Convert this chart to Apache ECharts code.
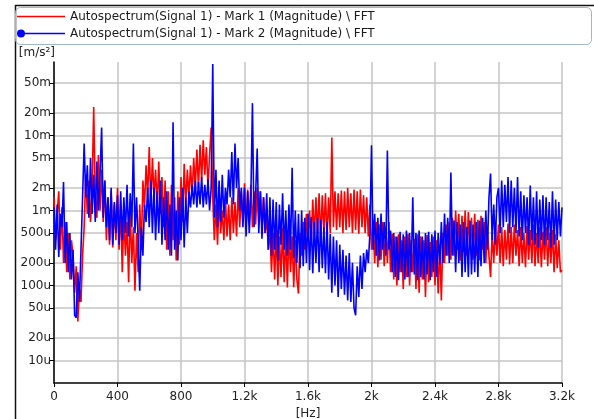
<!DOCTYPE html>
<html>
<head>
<meta charset="utf-8">
<script src="https://cdn.jsdelivr.net/npm/echarts@6/dist/echarts.min.js"></script>
<style>
html,body{margin:0;padding:0;background:#fff;}
#chart{width:594px;height:419px;}
</style>
</head>
<body>
<div id="chart"></div>
<script>
// ---- DATA ----
const seriesNames = [
  'Autospectrum(Signal 1) - Mark 1 (Magnitude) \\ FFT',
  'Autospectrum(Signal 1) - Mark 2 (Magnitude) \\ FFT'
];
// sample positions (Hz): 0..3200 every 10 Hz
const FREQ_START = 0, FREQ_STEP = 10, FREQ_COUNT = 321;
// values in micro m/s² (u) (one row = 100 Hz)
const mark1U = [
  1500,400,900,1800,300,1100,200,700,150,500,
  120,400,250,80,180,33,90,60,250,600,
  3000,900,2500,700,1800,24000,1500,800,5500,1000,
  3500,700,2500,400,1500,350,1800,320,1200,400,
  2000,300,1200,150,900,250,700,110,1000,200,
  600,85,500,150,1200,300,2500,1100,4000,1500,
  7000,1200,5000,1500,3500,1100,4500,900,2800,600,
  2500,300,1800,250,2200,400,1500,215,1800,350,
  2800,700,4200,1200,3500,1500,4000,1600,5000,2000,
  6500,2000,7500,2500,8600,3000,7000,2000,5500,12800,
  1500,400,1200,350,1500,500,1000,400,1400,450,
  1200,400,1500,500,1300,450,2000,600,1800,700,
  2300,600,1900,700,2200,600,1800,650,2000,700,
  1800,600,1500,500,800,300,600,150,500,120,
  550,100,450,130,590,110,500,94,550,150,
  450,95,400,120,78,500,250,700,300,900,
  400,1000,360,1400,450,1500,500,1700,400,1600,
  500,1700,450,1500,500,9400,600,1800,550,1700,
  600,1850,500,1800,550,2000,600,1700,500,1900,
  550,1800,490,1900,600,1600,500,1500,450,1200,
  300,735,200,700,175,650,220,700,180,600,
  200,700,150,490,120,450,100,480,150,400,
  90,450,130,490,100,400,150,420,90,480,
  80,450,120,400,70,470,110,380,130,450,
  100,400,78,350,63,500,200,650,250,700,
  220,800,250,1000,300,900,215,850,280,1000,
  250,950,300,800,220,900,250,750,215,850,
  300,700,200,600,250,130,500,200,600,250,
  650,200,600,180,550,220,670,190,600,200,
  650,250,550,180,600,200,500,175,620,220,
  550,200,650,180,500,200,600,175,520,220,
  600,180,500,200,550,150,480,170,400,150,
  160
];
const mark2U = [
  1100,300,1200,240,900,600,2400,200,700,150,
  500,120,300,40,37,150,60,300,1500,7800,
  1500,4000,800,5000,900,3000,700,4500,1000,3000,
  12800,800,2500,600,1500,400,2000,350,1300,500,
  1600,350,1800,400,1500,500,2200,450,1700,600,
  7800,500,1500,400,85,600,250,1200,700,2000,
  600,2500,500,2000,400,1800,500,2500,350,1500,
  400,1800,300,1200,250,15000,300,1000,215,1500,
  400,2000,320,1500,500,1800,1100,2200,1200,2500,
  1100,2400,1200,2800,1100,2200,1200,2600,1000,2000,
  90000,800,3500,600,2500,700,3000,800,2000,1200,
  3500,1500,6000,1200,7800,2000,5000,1000,2000,600,
  2000,450,1800,500,1500,27000,600,1600,6700,500,
  1800,420,1500,500,1700,300,1500,250,1400,300,
  1300,215,1200,350,1700,300,1000,250,1200,300,
  3700,230,1000,200,900,170,1000,180,800,200,
  900,160,810,145,700,200,800,150,750,170,
  600,145,700,120,490,80,450,100,400,70,
  350,90,300,75,250,63,270,60,200,50,
  40,180,70,250,90,270,150,300,200,500,
  7400,300,900,250,800,215,910,300,700,250,
  6300,300,540,150,500,130,450,117,520,150,
  480,120,540,130,500,150,1500,140,500,117,
  540,130,450,120,500,140,520,117,480,150,
  540,130,500,190,700,200,910,250,800,200,
  3200,250,735,150,700,200,650,130,700,150,
  600,130,735,140,650,150,700,130,735,180,
  800,200,1000,300,1500,3100,400,1200,350,1500,
  2000,500,2500,600,2200,700,2800,500,2500,600,
  2000,500,2800,450,1800,400,1600,500,1500,350,
  2150,400,1500,350,1800,320,1400,400,1600,350,
  1500,400,1300,320,1800,350,1400,400,1300,450,
  1100
];
const xTickValues = [0,400,800,1200,1600,2000,2400,2800,3200];
const xTickLabels = ['0','400','800','1.2k','1.6k','2k','2.4k','2.8k','3.2k'];
const yTickValues = [10e-6,20e-6,50e-6,100e-6,200e-6,500e-6,1e-3,2e-3,5e-3,10e-3,20e-3,50e-3];
const yTickLabels = ['10u','20u','50u','100u','200u','500u','1m','2m','5m','10m','20m','50m'];
const yMinValue = 5e-6, yMaxValue = 0.0955;

// ---- BUILD ----
const freq = [];
for (let i = 0; i < FREQ_COUNT; i++) freq.push(FREQ_START + i * FREQ_STEP);
const toLog = u => Math.log10(u * 1e-6);
const d1 = freq.map((f, i) => [f, toLog(mark1U[i])]);
const d2 = freq.map((f, i) => [f, toLog(mark2U[i])]);
const yTickLogs = yTickValues.map(v => Math.log10(v));

const FONT = 'DejaVu Sans';
const chart = echarts.init(document.getElementById('chart'), null, {renderer: 'canvas'});
chart.setOption({
  animation: false,
  backgroundColor: '#fff',
  graphic: [
    {type: 'line', shape: {x1: 15, y1: 5.5, x2: 594, y2: 5.5}, style: {stroke: '#111', lineWidth: 1.5}, z: 0},
    {type: 'line', shape: {x1: 15.5, y1: 5, x2: 15.5, y2: 419}, style: {stroke: '#111', lineWidth: 1.5}, z: 0},
    {type: 'rect', shape: {x: 15.5, y: 7.5, width: 576, height: 37, r: 5}, style: {fill: 'none', stroke: '#9fb4cf', lineWidth: 1}, z: 0}
  ],
  legend: {
    orient: 'vertical',
    left: 17, top: 10,
    itemWidth: 48, itemHeight: 8, itemGap: 4,
    padding: 0,
    data: [
      {name: seriesNames[0], icon: 'path://M2,3.35 H48 V4.65 H2 Z'},
      {name: seriesNames[1], icon: 'path://M0,4 A4,4 0 1,1 8,4 A4,4 0 1,1 0,4 Z M6,3.35 H48 V4.65 H6 Z'}
    ],
    textStyle: {fontFamily: FONT, fontSize: 12, color: '#1a1a1a', lineHeight: 13},
    selectedMode: false
  },
  grid: {left: 54, right: 32, top: 62, bottom: 36, outerBoundsMode: 'none', containLabel: false},
  xAxis: {
    type: 'value', min: 0, max: 3200, interval: 400,
    name: '[Hz]', nameLocation: 'middle', nameGap: 21,
    nameTextStyle: {fontFamily: FONT, fontSize: 12, color: '#222'},
    axisLine: {show: true, onZero: false, lineStyle: {color: '#000', width: 1.5}},
    axisTick: {show: true, length: 4, lineStyle: {color: '#000', width: 1}},
    axisLabel: {fontFamily: FONT, fontSize: 12, color: '#222', margin: 8,
      formatter: v => { const i = xTickValues.indexOf(v); return i >= 0 ? xTickLabels[i] : ''; }},
    splitLine: {show: true, lineStyle: {color: '#c4c4c4', width: 1.5}}
  },
  yAxis: {
    type: 'value', min: Math.log10(yMinValue), max: Math.log10(yMaxValue),
    name: '[m/s²]', nameLocation: 'end', nameGap: 9,
    nameTextStyle: {fontFamily: FONT, fontSize: 12, color: '#222', align: 'right', verticalAlign: 'middle', padding: [0, -1, 0, 0]},
    axisLine: {show: true, onZero: false, lineStyle: {color: '#000', width: 1.5}},
    axisTick: {show: true, length: 4, customValues: yTickLogs, lineStyle: {color: '#000', width: 1}},
    axisLabel: {fontFamily: FONT, fontSize: 12, color: '#222', margin: 3, customValues: yTickLogs,
      formatter: v => {
        for (let i = 0; i < yTickLogs.length; i++) if (Math.abs(yTickLogs[i] - v) < 1e-6) return yTickLabels[i];
        return '';
      }},
    splitLine: {show: true, lineStyle: {color: '#c4c4c4', width: 1.5}}
  },
  series: [
    {name: seriesNames[0], type: 'line', data: d1, symbol: 'none', showSymbol: false,
      lineStyle: {color: '#ff0000', width: 1.6}, itemStyle: {color: '#ff0000'}, clip: true, z: 2},
    {name: seriesNames[1], type: 'line', data: d2, symbol: 'none', showSymbol: false,
      lineStyle: {color: '#0000ff', width: 1.6}, itemStyle: {color: '#0000ff'}, clip: true, z: 3}
  ]
});
</script>
</body>
</html>
